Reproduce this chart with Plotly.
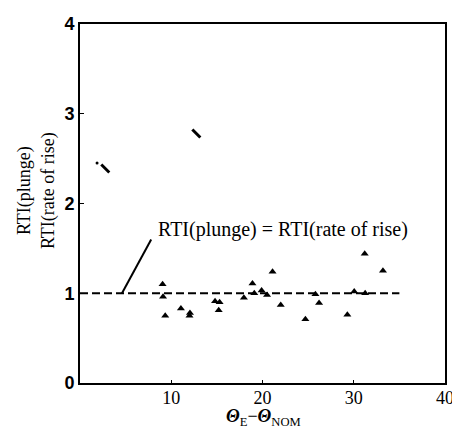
import plotly.graph_objects as go

# Data
x_vals = [9.05, 9.1, 9.34, 11.06, 12.0, 12.05, 14.8, 15.3, 15.2, 17.96, 18.9, 19.1,
          19.9, 20.5, 21.1, 22.0, 24.7, 25.8, 26.2, 29.3, 30.05, 31.2, 31.25, 33.2]
rti_ratio = [1.10, 0.96, 0.75, 0.83, 0.75, 0.78, 0.91, 0.90, 0.81, 0.95, 1.11, 1.00,
             1.03, 0.98, 1.24, 0.87, 0.71, 0.99, 0.89, 0.76, 1.02, 1.44, 1.00, 1.25]
stray_x = [2.77, 12.75]
stray_y = [2.39, 2.78]
speck_x = [1.87]
speck_y = [2.45]
equal_line_x = [0, 35]
equal_line_y = [1, 1]
leader_x = [4.6, 7.8]
leader_y = [1.0, 1.6]
x_ticks = [10, 20, 30, 40]
y_ticks = [0, 1, 2, 3, 4]

serif = "Liberation Serif"

# page has an 8px body margin; plot area should span page px x 80..451, y ~14..383
W, H = 452, 422
L, R, T, B = 72, 9, 6, 47
plot_w = W - L - R
plot_h = H - T - B
OFF = 8  # body margin


def px_x(page_x):
    return (page_x - OFF - L) / plot_w


def px_y(page_y):
    return (H - B + OFF - page_y) / plot_h


fig = go.Figure()
fig.add_trace(go.Scatter(x=equal_line_x, y=equal_line_y, mode="lines",
                         line=dict(color="black", width=2, dash="8px,4px"),
                         hoverinfo="skip", showlegend=False))
fig.add_trace(go.Scatter(x=leader_x, y=leader_y, mode="lines",
                         line=dict(color="black", width=2),
                         hoverinfo="skip", showlegend=False))
fig.add_trace(go.Scatter(x=x_vals, y=rti_ratio, mode="markers",
                         marker=dict(symbol="triangle-up", size=7, color="black"),
                         showlegend=False))
fig.add_trace(go.Scatter(x=stray_x, y=stray_y, mode="markers",
                         marker=dict(symbol="line-nw", size=8,
                                     line=dict(color="black", width=3)),
                         showlegend=False))
fig.add_trace(go.Scatter(x=speck_x, y=speck_y, mode="markers",
                         marker=dict(symbol="circle", size=3, color="black"),
                         showlegend=False))

fig.add_annotation(x=22.3, y=1.71, xref="x", yref="y",
                   text="RTI(plunge) = RTI(rate of rise)", showarrow=False,
                   font=dict(family=serif, size=20, color="black"))
# y title: two lines centred at page px x≈36, y≈185
fig.add_annotation(x=px_x(36), y=px_y(185),
                   xref="paper", yref="paper", xanchor="center", yanchor="middle",
                   text="RTI(plunge)<br>RTI(rate of rise)", showarrow=False,
                   textangle=-90,
                   font=dict(family=serif, size=18, color="black"))
# x title centred at page px x≈267, y≈418
fig.add_annotation(x=px_x(267), y=px_y(418),
                   xref="paper", yref="paper", xanchor="center", yanchor="middle",
                   text="<b><i>Θ</i></b><sub>E</sub>−<b><i>Θ</i></b><sub>NOM</sub>",
                   showarrow=False,
                   font=dict(family=serif, size=18, color="black"))

fig.update_xaxes(range=[0, 40], tickvals=x_ticks, showgrid=False, zeroline=False,
                 showline=True, linecolor="black", linewidth=2, mirror=True,
                 ticks="inside", ticklen=3, tickcolor="black",
                 ticklabeloverflow="allow", ticklabelstandoff=-3,
                 tickfont=dict(family=serif, size=18, color="black"))
fig.update_yaxes(range=[0, 4], tickvals=y_ticks, showgrid=False, zeroline=False,
                 showline=True, linecolor="black", linewidth=2, mirror=True,
                 ticks="inside", ticklen=4, tickcolor="black",
                 ticklabeloverflow="allow",
                 tickfont=dict(family="Liberation Sans", size=18, color="black",
                               weight="bold"))

fig.update_layout(width=W, height=H,
                  margin=dict(l=L, r=R, t=T, b=B),
                  plot_bgcolor="white", paper_bgcolor="white")

fig.write_html("out.html")
